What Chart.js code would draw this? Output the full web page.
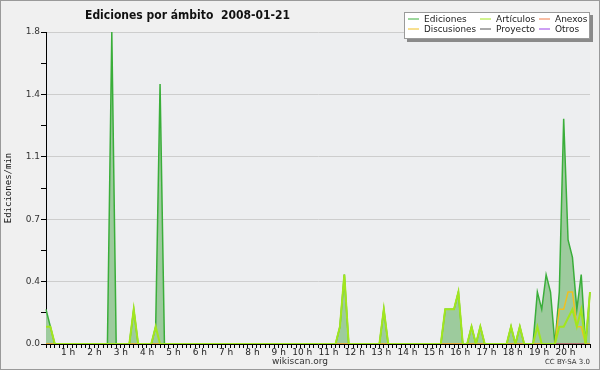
<!DOCTYPE html>
<html>
<head>
<meta charset="utf-8">
<script src="https://cdn.jsdelivr.net/npm/chart.js@4"></script>
<style>
  html, body { margin: 0; padding: 0; background: #f0f0f0; }
  #wrap { width: 600px; height: 370px; position: relative; }
</style>
</head>
<body>
<div id="wrap"><canvas id="chart"></canvas></div>
<script>
// 10-minute samples from 0:00 to 20:40 (edits per minute)
const ediciones = [
  0.2, 0.1, 0, 0, 0, 0, 0, 0, 0, 0, 0, 0,          // 0h-1h50
  0, 0, 0, 1.8, 0, 0, 0, 0, 0.2, 0, 0, 0,          // 2h-3h50
  0, 0.1, 1.5, 0, 0, 0, 0, 0, 0, 0, 0, 0,          // 4h-5h50
  0, 0, 0, 0, 0, 0, 0, 0, 0, 0, 0, 0,              // 6h-7h50
  0, 0, 0, 0, 0, 0, 0, 0, 0, 0, 0, 0,              // 8h-9h50
  0, 0, 0, 0, 0, 0, 0, 0.1, 0.4, 0, 0, 0,          // 10h-11h50
  0, 0, 0, 0, 0, 0.2, 0, 0, 0, 0, 0, 0,            // 12h-13h50
  0, 0, 0, 0, 0, 0, 0, 0.2, 0.2, 0.2, 0.3, 0,      // 14h-15h50
  0, 0.1, 0, 0.1, 0, 0, 0, 0, 0, 0, 0.1, 0,        // 16h-17h50
  0.1, 0, 0, 0, 0.3, 0.2, 0.4, 0.3, 0, 0.3, 1.3, 0.6, // 18h-19h50
  0.5, 0.2, 0.4, 0, 0.3                             // 20h-20h40
];
const articulos = [
  0.1, 0.1, 0, 0, 0, 0, 0, 0, 0, 0, 0, 0,
  0, 0, 0, 0, 0, 0, 0, 0, 0.2, 0, 0, 0,
  0, 0.1, 0, 0, 0, 0, 0, 0, 0, 0, 0, 0,
  0, 0, 0, 0, 0, 0, 0, 0, 0, 0, 0, 0,
  0, 0, 0, 0, 0, 0, 0, 0, 0, 0, 0, 0,
  0, 0, 0, 0, 0, 0, 0, 0.1, 0.4, 0, 0, 0,
  0, 0, 0, 0, 0, 0.2, 0, 0, 0, 0, 0, 0,
  0, 0, 0, 0, 0, 0, 0, 0.2, 0.2, 0.2, 0.3, 0,
  0, 0.1, 0, 0.1, 0, 0, 0, 0, 0, 0, 0.1, 0,
  0.1, 0, 0, 0, 0.1, 0, 0, 0, 0, 0.1, 0.1, 0.15,
  0.2, 0.1, 0.2, 0, 0.3
];
const discusiones = [
  0, 0, 0, 0, 0, 0, 0, 0, 0, 0, 0, 0,
  0, 0, 0, 0, 0, 0, 0, 0, 0, 0, 0, 0,
  0, 0, 0, 0, 0, 0, 0, 0, 0, 0, 0, 0,
  0, 0, 0, 0, 0, 0, 0, 0, 0, 0, 0, 0,
  0, 0, 0, 0, 0, 0, 0, 0, 0, 0, 0, 0,
  0, 0, 0, 0, 0, 0, 0, 0, 0, 0, 0, 0,
  0, 0, 0, 0, 0, 0, 0, 0, 0, 0, 0, 0,
  0, 0, 0, 0, 0, 0, 0, 0, 0, 0, 0, 0,
  0, 0, 0, 0, 0, 0, 0, 0, 0, 0, 0, 0,
  0, 0, 0, 0, 0, 0, 0, 0, 0, 0.2, 0.2, 0.3,
  0.3, 0.1, 0.1, 0, 0
];
// these three read zero all day
const anexos = new Array(ediciones.length).fill(0);
const proyecto = new Array(ediciones.length).fill(0);
const otros = new Array(ediciones.length).fill(0);

const seriesNames = ['Ediciones', 'Artículos', 'Anexos', 'Discusiones', 'Proyecto', 'Otros'];
const yTickValues = [0, 0.18, 0.36, 0.54, 0.72, 0.9, 1.08, 1.26, 1.44, 1.62, 1.8];

const times = [];
for (let i = 0; i < ediciones.length; i++) {
  times.push(Math.floor(i / 6) + ':' + String((i % 6) * 10).padStart(2, '0'));
}

const FONT = 'DejaVu Sans';

const decorations = {
  id: 'decorations',
  beforeDraw(chart) {
    const ctx = chart.ctx, a = chart.chartArea;
    ctx.save();
    ctx.fillStyle = '#f0f0f0';
    ctx.fillRect(0, 0, chart.width, chart.height);
    ctx.fillStyle = '#edeef0';
    ctx.fillRect(a.left, a.top, a.right - a.left, a.bottom - a.top);
    ctx.restore();
  },
  afterDraw(chart) {
    const ctx = chart.ctx;
    ctx.save();
    // title
    ctx.fillStyle = '#111';
    ctx.font = 'bold 12px ' + FONT;
    ctx.textBaseline = 'alphabetic';
    ctx.textAlign = 'left';
    ctx.fillText('Ediciones por ámbito  2008-01-21', 85, 19, 205);

    // legend box with shadow
    ctx.fillStyle = '#8a8a8a';
    ctx.fillRect(407, 15, 186, 27);
    ctx.fillStyle = '#ffffff';
    ctx.fillRect(404, 12, 186, 27);
    ctx.strokeStyle = '#9a9a9a';
    ctx.lineWidth = 1;
    ctx.strokeRect(404.5, 12.5, 185, 26);

    const colX = [408, 480, 539];
    const rowY = [19, 29];
    ctx.font = '9px ' + FONT;
    ctx.textBaseline = 'middle';
    chart.data.datasets.forEach((ds, i) => {
      const x = colX[i % 3], y = rowY[Math.floor(i / 3)];
      ctx.strokeStyle = ds.borderColor;
      ctx.beginPath();
      ctx.moveTo(x, y);
      ctx.lineTo(x + 11, y);
      ctx.stroke();
      ctx.fillStyle = '#222';
      ctx.fillText(ds.label, x + 16, y + 0.5, 52);
    });

    // footer
    ctx.textBaseline = 'alphabetic';
    ctx.fillStyle = '#333';
    ctx.font = '9px ' + FONT;
    ctx.textAlign = 'center';
    ctx.fillText('wikiscan.org', 300, 364);
    ctx.font = '7px ' + FONT;
    ctx.textAlign = 'right';
    ctx.fillText('CC BY-SA 3.0', 590, 364);

    // outer frame
    ctx.strokeStyle = '#9a9a9a';
    ctx.strokeRect(0.5, 0.5, chart.width - 1, chart.height - 1);
    ctx.restore();
  }
};

function line(label, data, color, width, order, fill) {
  return {
    label: label,
    data: data,
    borderColor: color,
    backgroundColor: fill || 'transparent',
    fill: fill ? 'origin' : false,
    borderWidth: width,
    pointRadius: 0,
    tension: 0,
    order: order
  };
}

new Chart(document.getElementById('chart'), {
  type: 'line',
  data: {
    labels: times,
    datasets: [
      line(seriesNames[0], ediciones, '#3aae3a', 1.5, 10, '#9dcb9d'),
      line(seriesNames[1], articulos, '#a2e61e', 2, 1),
      line(seriesNames[2], anexos, '#f07a48', 1, 5),
      line(seriesNames[3], discusiones, '#f0c020', 1.5, 2),
      line(seriesNames[4], proyecto, '#555555', 1, 5),
      line(seriesNames[5], otros, '#9b40e8', 1, 5)
    ]
  },
  options: {
    responsive: true,
    maintainAspectRatio: false,
    animation: false,
    layout: { padding: { left: 0, right: 10, top: 32, bottom: 0 } },
    plugins: {
      legend: { display: false },
      tooltip: { enabled: false }
    },
    scales: {
      x: {
        offset: false,
        grid: { drawOnChartArea: false, drawTicks: true, tickLength: 4, tickColor: '#000' },
        border: { color: '#000', z: 1 },
        ticks: {
          autoSkip: false,
          maxRotation: 0,
          minRotation: 0,
          align: 'end',
          labelOffset: 3,
          padding: -1,
          color: '#222',
          font: { family: FONT, size: 9 },
          callback: (v, i) => (i > 0 && i % 6 === 0) ? (i / 6) + ' h' : ''
        },
        afterFit: s => { s.height = 26; }
      },
      y: {
        min: 0,
        max: 1.8,
        afterBuildTicks: s => { s.ticks = yTickValues.map(v => ({ value: v })); },
        grid: {
          color: c => (c.index > 0 && c.index % 2 === 0) ? '#cdcdcd' : 'rgba(0,0,0,0)',
          tickColor: '#000',
          tickLength: 5
        },
        border: { color: '#000' },
        ticks: {
          padding: 1,
          color: '#333',
          font: { family: FONT, size: 9 },
          callback: (v, i) => i % 2 === 0 ? v.toFixed(1) : ''
        },
        title: {
          display: true,
          text: 'Ediciones/min',
          color: '#111',
          font: { family: 'DejaVu Sans Mono', size: 9 },
          padding: { top: 3, bottom: 0 }
        },
        afterFit: s => { s.width = 46; }
      }
    }
  },
  plugins: [decorations]
});
</script>
</body>
</html>
